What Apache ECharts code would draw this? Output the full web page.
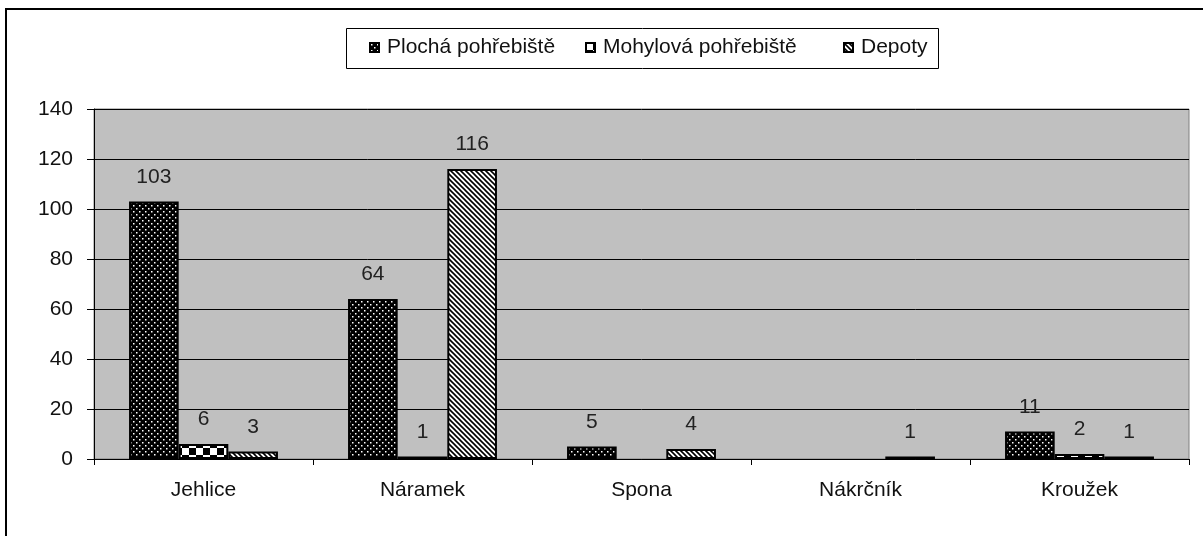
<!DOCTYPE html>
<html>
<head>
<meta charset="utf-8">
<script src="https://cdn.jsdelivr.net/npm/echarts@6/dist/echarts.min.js"></script>
<style>
  html, body { margin: 0; padding: 0; background: #fff; }
  #chart { width: 1203px; height: 536px; }
</style>
</head>
<body>
<div id="chart"></div>
<script>
// data
const categories = ['Jehlice', 'Náramek', 'Spona', 'Nákrčník', 'Kroužek'];
const seriesNames = ['Plochá pohřebiště', 'Mohylová pohřebiště', 'Depoty'];
const plochaValues = [103, 64, 5, null, 11];
const mohylovaValues = [6, 1, null, null, 2];
const depotyValues = [3, 116, 4, 1, 1];
const yTicks = { min: 0, max: 140, interval: 20 };

// fill patterns like the old excel hatches
function makePattern(kind) {
  const c = document.createElement('canvas');
  const ctx = c.getContext('2d');
  if (kind === 'dots') {
    c.width = 6; c.height = 6;
    ctx.fillStyle = '#000';
    ctx.fillRect(0, 0, 6, 6);
    ctx.fillStyle = '#fff';
    ctx.fillRect(1, 1, 1.5, 1.5);
    ctx.fillRect(4, 4, 1.5, 1.5);
  } else if (kind === 'checker') {
    c.width = 14; c.height = 14;
    ctx.fillStyle = '#000';
    ctx.fillRect(0, 0, 14, 14);
    ctx.fillStyle = '#fff';
    ctx.fillRect(0, 0, 7, 7);
    ctx.fillRect(7, 7, 7, 7);
  } else {
    c.width = 5; c.height = 5;
    ctx.fillStyle = '#fff';
    ctx.fillRect(0, 0, 5, 5);
    ctx.strokeStyle = '#000';
    ctx.lineWidth = 1.6;
    ctx.beginPath();
    ctx.moveTo(-1, -1); ctx.lineTo(6, 6);
    ctx.moveTo(-1, 4); ctx.lineTo(1, 6);
    ctx.moveTo(4, -1); ctx.lineTo(6, 1);
    ctx.stroke();
  }
  return { image: c, repeat: 'repeat' };
}

const fills = [makePattern('dots'), makePattern('checker'), makePattern('stripes')];
const valueLists = [plochaValues, mohylovaValues, depotyValues];
const legendLefts = [369, 585, 843];

const font = 'Liberation Sans, Arial, sans-serif';

const chartInstance = echarts.init(document.getElementById('chart'));

const option = {
  animation: false,
  backgroundColor: '#fff',
  graphic: [
    {
      // outer frame, runs off the right and bottom edge like in the picture
      type: 'rect',
      shape: { x: 6, y: 9, width: 1300, height: 600 },
      style: { fill: 'none', stroke: '#000', lineWidth: 2 },
      z: 0
    },
    {
      type: 'rect',
      shape: { x: 346.5, y: 28.5, width: 592, height: 40 },
      style: { fill: '#fff', stroke: '#000', lineWidth: 1 },
      z: 0
    }
  ],
  legend: seriesNames.map((name, i) => ({
    left: legendLefts[i],
    top: 37,
    padding: 0,
    itemWidth: 9,
    itemHeight: 9,
    icon: 'rect',
    data: [name],
    textStyle: { fontFamily: font, fontSize: 21, color: '#111', padding: [0, 0, 0, 3] }
  })),
  grid: {
    left: 94,
    right: 14,
    top: 109,
    bottom: 77,
    show: true,
    backgroundColor: '#c0c0c0',
    borderColor: '#808080',
    borderWidth: 1
  },
  xAxis: {
    type: 'category',
    data: categories,
    axisLine: { lineStyle: { color: '#000', width: 1 } },
    axisTick: { show: true, length: 6, lineStyle: { color: '#000' } },
    axisLabel: { fontFamily: font, fontSize: 21, color: '#111', margin: 21 }
  },
  yAxis: {
    type: 'value',
    min: yTicks.min,
    max: yTicks.max,
    interval: yTicks.interval,
    axisLine: { show: true, lineStyle: { color: '#000', width: 1 } },
    axisTick: { show: true, length: 7, lineStyle: { color: '#000' } },
    axisLabel: { fontFamily: font, fontSize: 21, color: '#111', margin: 21 },
    splitLine: { lineStyle: { color: '#000', width: 1 } }
  },
  series: seriesNames.map((name, i) => ({
    name: name,
    type: 'bar',
    data: valueLists[i],
    barGap: '0%',
    barCategoryGap: '32%',
    itemStyle: { color: fills[i], borderColor: '#000', borderWidth: 2 },
    label: {
      show: true,
      position: 'top',
      distance: 14,
      fontFamily: font,
      fontSize: 21,
      color: '#222'
    }
  }))
};

chartInstance.setOption(option);
</script>
</body>
</html>
